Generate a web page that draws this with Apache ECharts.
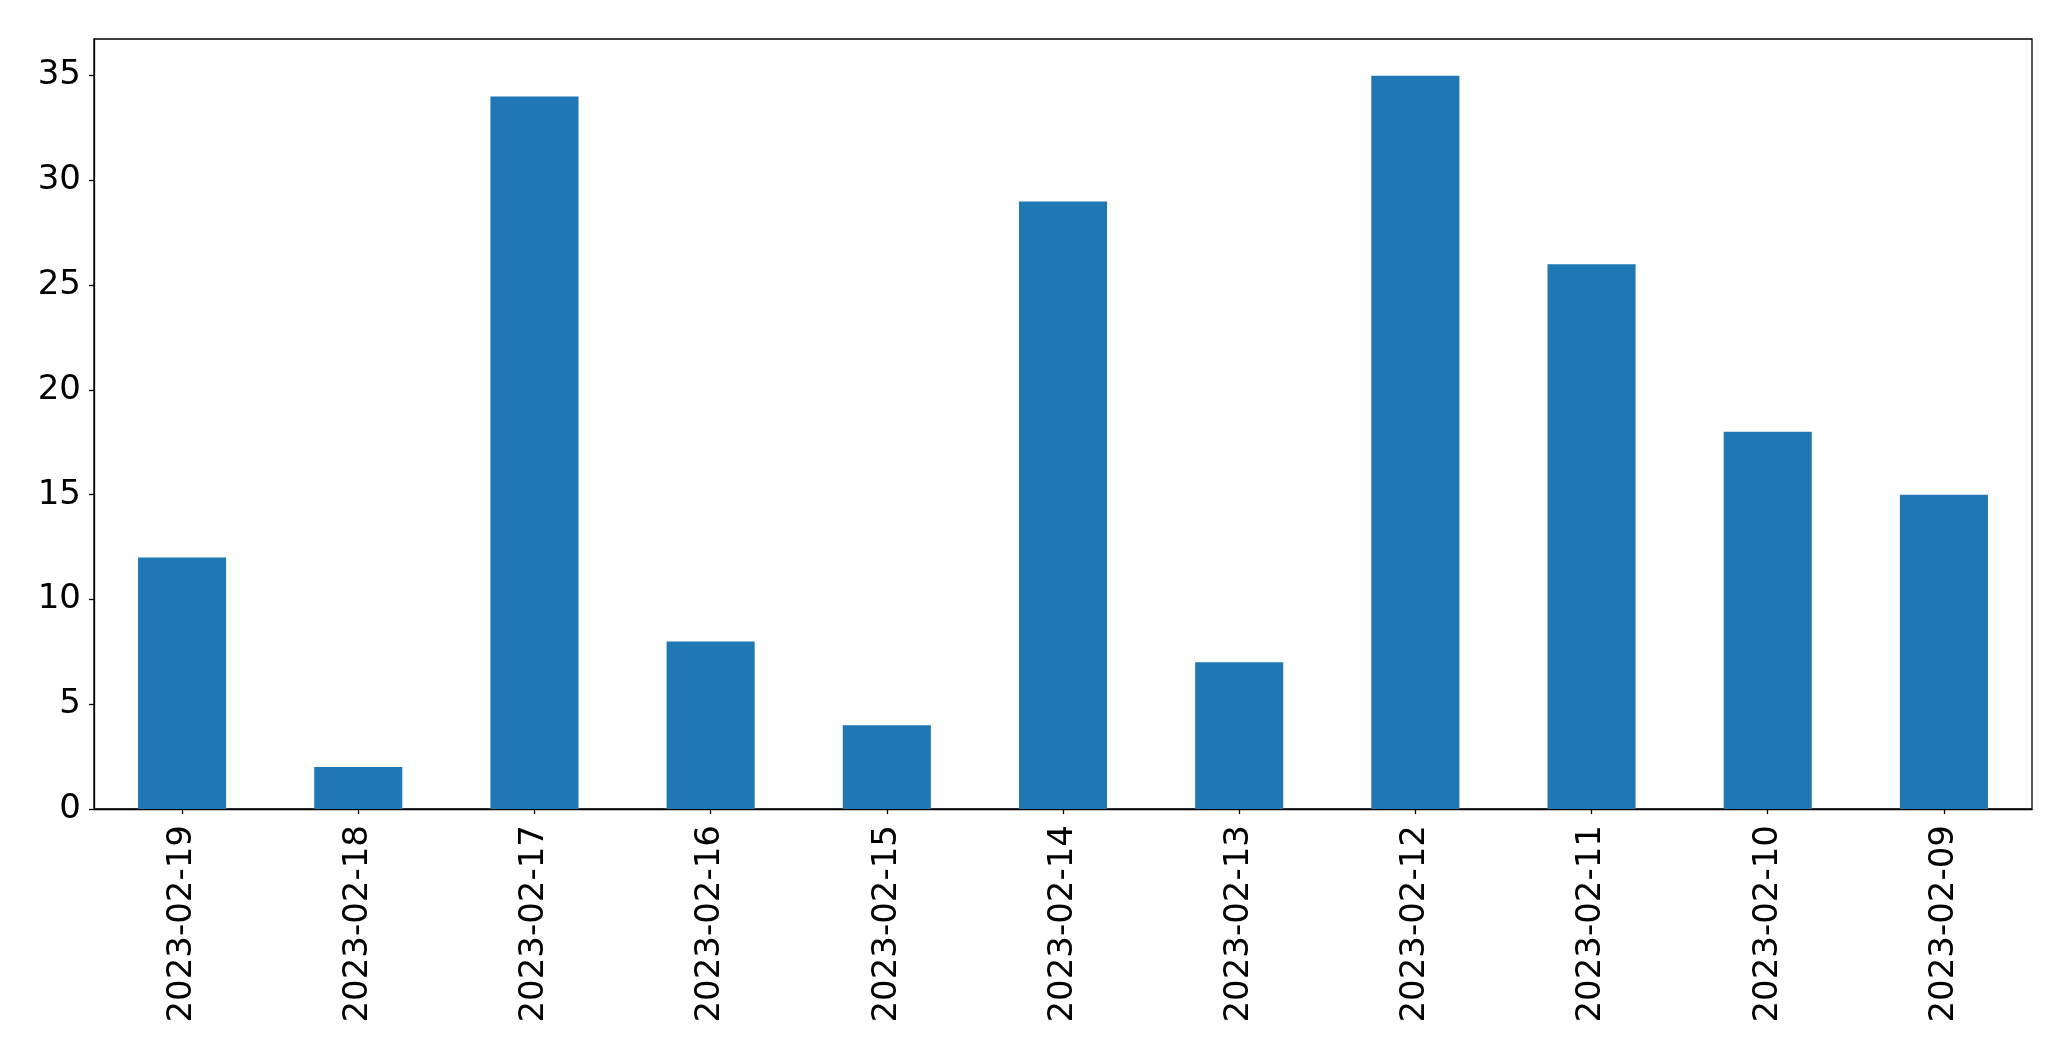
<!DOCTYPE html>
<html><head><meta charset="utf-8">
<script src="https://cdn.jsdelivr.net/npm/echarts@6/dist/echarts.min.js"></script>
<style>html,body{margin:0;padding:0;background:#fff}#c{width:2071px;height:1061px}</style>
</head><body><div id="c"></div>
<script>
const categories = ["2023-02-19","2023-02-18","2023-02-17","2023-02-16","2023-02-15","2023-02-14","2023-02-13","2023-02-12","2023-02-11","2023-02-10","2023-02-09"];
const values = [12, 2, 34, 8, 4, 29, 7, 35, 26, 18, 15];
const yTicks = [0, 5, 10, 15, 20, 25, 30, 35];

const chart = echarts.init(document.getElementById('c'));
const font = 'DejaVu Sans';
chart.setOption({
  animation: false,
  backgroundColor: '#fff',
  grid: { left: 94, right: 39, top: 39, bottom: 252, show: true, borderColor: '#000', borderWidth: 1.3, backgroundColor: 'transparent' },
  xAxis: {
    type: 'category', data: categories, boundaryGap: true,
    axisLine: { show: true, lineStyle: { color: '#000', width: 1.3 } },
    axisTick: { show: true, alignWithLabel: true, length: 5, lineStyle: { color: '#000', width: 1.3 } },
    axisLabel: { rotate: 90, margin: 16, fontSize: 34, color: '#000', fontFamily: font, interval: 0 },
    splitLine: { show: false }
  },
  yAxis: {
    type: 'value', min: 0, max: 36.75,
    axisLine: { show: true, lineStyle: { color: '#000', width: 1.3 } },
    axisTick: { show: true, length: 5, customValues: yTicks, lineStyle: { color: '#000', width: 1.3 } },
    axisLabel: { margin: 13, fontSize: 34, color: '#000', fontFamily: font, customValues: yTicks },
    splitLine: { show: false }
  },
  series: [{
    type: 'bar', data: values, barWidth: '50%',
    itemStyle: { color: '#1f77b4' }
  }]
});
</script></body></html>
